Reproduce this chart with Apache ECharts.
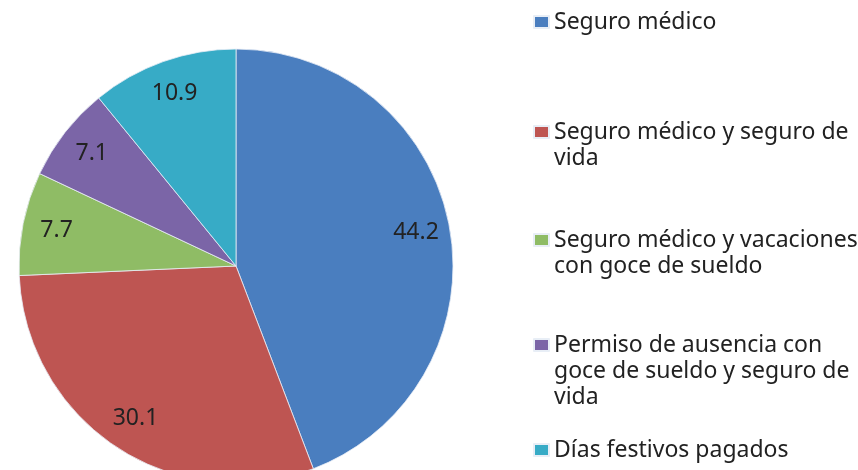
<!DOCTYPE html>
<html>
<head>
<meta charset="utf-8">
<script src="https://cdn.jsdelivr.net/npm/echarts@6/dist/echarts.min.js"></script>
<style>
  html, body { margin: 0; padding: 0; background: #fff; }
  #chart { width: 858px; height: 470px; }
</style>
</head>
<body>
<div id="chart"></div>
<script>
// categories, clockwise from 12 o'clock
const categories = [
  'Seguro médico',
  'Seguro médico y seguro de vida',
  'Seguro médico y vacaciones con goce de sueldo',
  'Permiso de ausencia con goce de sueldo y seguro de vida',
  'Días festivos pagados'
];
const values = [44.2, 30.1, 7.7, 7.1, 10.9];
// how the legend wraps each name
const legendLines = [
  ['Seguro médico'],
  ['Seguro médico y seguro de', 'vida'],
  ['Seguro médico y vacaciones', 'con goce de sueldo'],
  ['Permiso de ausencia con', 'goce de sueldo y seguro de', 'vida'],
  ['Días festivos pagados']
];
const colors = ['#4a7ebf', '#be5552', '#8fbc65', '#7b65a7', '#37abc6'];

const FONT = 'Noto Sans';
const LH = 26;
const legendIconY = [22, 132, 240, 345, 450];

const chart = echarts.init(document.getElementById('chart'));

const pieData = categories.map((name, i) => ({
  name: name,
  value: values[i],
  itemStyle: { color: colors[i] }
}));

// legend text is centred on the icon, so pad with blank lines above
// to keep the icon next to the first line
const legends = categories.map((name, i) => {
  const lines = legendLines[i];
  const n = lines.length;
  const blanks = new Array(n - 1).fill(' ');
  const boxH = (2 * n - 1) * LH;
  return {
    data: [name],
    left: 533,
    top: legendIconY[i] - boxH / 2,
    padding: 0,
    icon: 'rect',
    itemWidth: 15,
    itemHeight: 12,
    itemGap: 0,
    selectedMode: false,
    formatter: () => blanks.concat(lines).join('\n'),
    textStyle: {
      fontFamily: FONT,
      fontSize: 23,
      color: '#222',
      lineHeight: LH
    }
  };
});

const option = {
  animation: false,
  color: colors,
  legend: legends,
  series: [
    {
      type: 'pie',
      center: [236, 266],
      radius: 217,
      startAngle: 90,
      clockwise: true,
      silent: true,
      data: pieData,
      itemStyle: { borderColor: '#e8eef6', borderWidth: 0.8 },
      label: { show: false },
      labelLine: { show: false }
    },
    {
      // transparent ring just to place the value labels at ~0.82 R
      type: 'pie',
      center: [236, 266],
      radius: [143, 217],
      startAngle: 90,
      clockwise: true,
      silent: true,
      legendHoverLink: false,
      data: categories.map((name, i) => ({ name: name, value: values[i] })),
      itemStyle: { color: 'rgba(0,0,0,0)' },
      label: {
        show: true,
        position: 'inside',
        formatter: p => p.value.toFixed(1),
        fontFamily: FONT,
        fontSize: 23,
        color: '#222'
      },
      labelLine: { show: false }
    }
  ]
};

chart.setOption(option);
</script>
</body>
</html>
